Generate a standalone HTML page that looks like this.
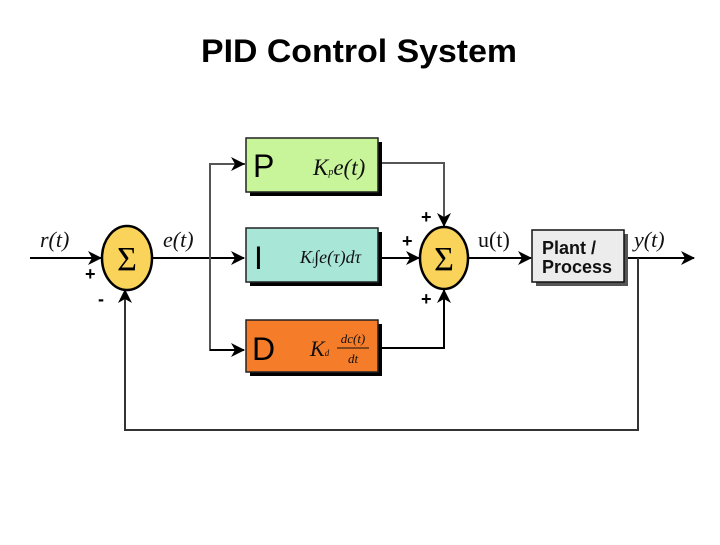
<!DOCTYPE html>
<html><head><style>
body{margin:0;background:#fff;width:720px;height:540px;overflow:hidden;font-family:"Liberation Sans",sans-serif}
</style></head><body>
<svg width="720" height="540" xmlns="http://www.w3.org/2000/svg">
<defs>
<marker id="b" markerWidth="14" markerHeight="14" refX="13" refY="7" orient="auto" markerUnits="userSpaceOnUse"><path d="M0,0 L14,7 L0,14 L4,7 z" fill="#000"/></marker>
</defs>
<text x="359" y="62" text-anchor="middle" font-size="32" font-weight="bold" font-family="Liberation Sans, sans-serif" textLength="316" lengthAdjust="spacingAndGlyphs">PID Control System</text>
<g stroke-width="2" fill="none">
<line x1="30" y1="258" x2="101" y2="258" stroke="#000" marker-end="url(#b)"/>
<line x1="152" y1="258" x2="244" y2="258" stroke="#000" marker-end="url(#b)"/>
<polyline points="245,164 210,164 210,350 244,350" stroke="#555" fill="none"/>
<line x1="210" y1="164" x2="244" y2="164" stroke="#555" marker-end="url(#b)"/>
<line x1="210" y1="350" x2="244" y2="350" stroke="#000" marker-end="url(#b)"/>
<polyline points="380,163 444,163 444,226" stroke="#555" marker-end="url(#b)"/>
<line x1="380" y1="258" x2="419" y2="258" stroke="#000" marker-end="url(#b)"/>
<polyline points="380,348 444,348 444,290" stroke="#000" marker-end="url(#b)"/>
<line x1="469" y1="258" x2="531" y2="258" stroke="#000" marker-end="url(#b)"/>
<line x1="626" y1="258" x2="694" y2="258" stroke="#000" marker-end="url(#b)"/>
<polyline points="638,258 638,430 125,430 125,290" stroke="#333" marker-end="url(#b)"/>
</g>
<ellipse cx="127" cy="258" rx="25" ry="32" fill="#f9d35a" stroke="#000" stroke-width="2.5"/>
<text x="127" y="270" text-anchor="middle" font-size="34" font-family="Liberation Serif,serif">Σ</text>
<ellipse cx="444" cy="258" rx="24" ry="31" fill="#f9d35a" stroke="#000" stroke-width="2.5"/>
<text x="444" y="270" text-anchor="middle" font-size="34" font-family="Liberation Serif,serif">Σ</text>
<rect x="250" y="142" width="132" height="54" fill="#000"/>
<rect x="246" y="138" width="132" height="54" fill="#c8f59a" stroke="#222" stroke-width="1.5"/>
<rect x="250" y="232" width="132" height="54" fill="#000"/>
<rect x="246" y="228" width="132" height="54" fill="#a8e6d8" stroke="#222" stroke-width="1.5"/>
<rect x="250" y="324" width="132" height="52" fill="#000"/>
<rect x="246" y="320" width="132" height="52" fill="#f57d2a" stroke="#222" stroke-width="1.5"/>
<rect x="536" y="234" width="92" height="52" fill="#555"/>
<rect x="532" y="230" width="92" height="52" fill="#ececec" stroke="#111" stroke-width="1.5"/>
<g font-family="Liberation Sans,sans-serif" font-size="32">
<text x="253" y="177">P</text><text x="254" y="269">I</text><text x="252" y="360">D</text>
</g>
<g font-family="Liberation Serif,serif" font-style="italic" fill="#111">
<text x="313" y="175" font-size="23">K<tspan font-size="10">p</tspan>e(t)</text>
<text x="300" y="263" font-size="18">K<tspan font-size="8">i</tspan>∫e(τ)dτ</text>
<text x="310" y="356" font-size="22">K<tspan font-size="9">d</tspan></text>
<text x="353" y="343" font-size="13" text-anchor="middle">dc(t)</text>
<line x1="337" y1="348" x2="369" y2="348" stroke="#111"/>
<text x="353" y="363" font-size="13" text-anchor="middle">dt</text>
<text x="40" y="247" font-size="22">r(t)</text>
<text x="163" y="247" font-size="22">e(t)</text>
<text x="478" y="247" font-size="22" font-style="normal">u(t)</text>
<text x="634" y="247" font-size="22">y(t)</text>
</g>
<g font-family="Liberation Sans,sans-serif" font-weight="bold" font-size="18">
<text x="85" y="280">+</text><text x="98" y="305">-</text>
<text x="421" y="223">+</text><text x="402" y="247">+</text><text x="421" y="305">+</text>
</g>
<text x="542" y="254" font-weight="bold" font-size="18" fill="#111">Plant /</text>
<text x="542" y="273" font-weight="bold" font-size="18" fill="#111">Process</text>
</svg>
</body></html>
